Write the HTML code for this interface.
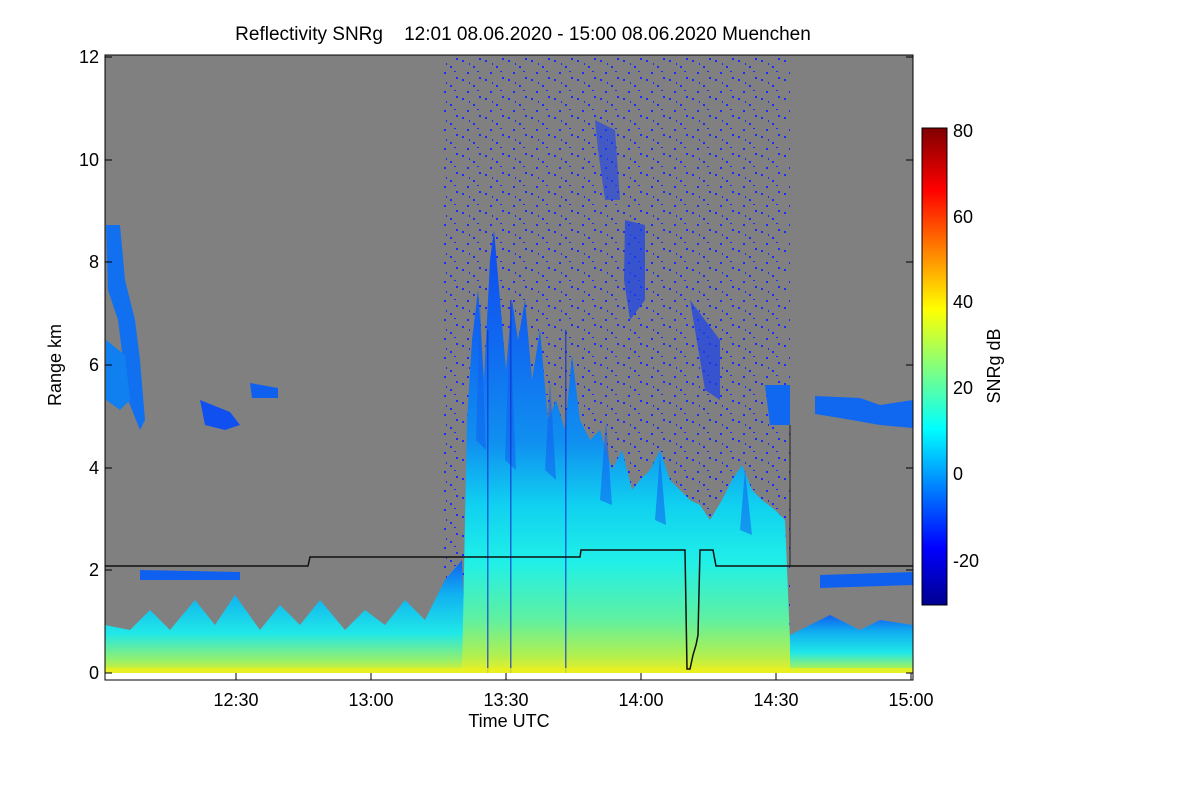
<!DOCTYPE html>
<html><head><meta charset="utf-8"><style>
body{margin:0;background:#fff;}
svg{display:block;font-family:"Liberation Sans",sans-serif;}
</style></head><body>
<svg width="1200" height="800" viewBox="0 0 1200 800">
<defs>
<linearGradient id="low" x1="0" y1="1" x2="0" y2="0">
<stop offset="0" stop-color="#e8f020"/><stop offset="0.12" stop-color="#90f070"/><stop offset="0.35" stop-color="#20e8e8"/><stop offset="0.7" stop-color="#10b0f0"/><stop offset="1" stop-color="#1060f0"/>
</linearGradient>
<linearGradient id="tall" gradientUnits="userSpaceOnUse" x1="0" y1="673" x2="0" y2="230">
<stop offset="0" stop-color="#f0f020"/><stop offset="0.04" stop-color="#b0f050"/><stop offset="0.12" stop-color="#60f0a0"/><stop offset="0.25" stop-color="#20f0e8"/><stop offset="0.38" stop-color="#10d0f0"/><stop offset="0.52" stop-color="#1090f0"/><stop offset="0.75" stop-color="#1068f0"/><stop offset="1" stop-color="#1048f0"/>
</linearGradient>
<linearGradient id="cb" x1="0" y1="1" x2="0" y2="0">
<stop offset="0" stop-color="#00008f"/><stop offset="0.12" stop-color="#0000ff"/><stop offset="0.37" stop-color="#00ffff"/><stop offset="0.62" stop-color="#ffff00"/><stop offset="0.87" stop-color="#ff0000"/><stop offset="1" stop-color="#800000"/>
</linearGradient>
<pattern id="dots" width="23" height="19" patternUnits="userSpaceOnUse">
<rect x="2" y="3" width="2" height="2" fill="#1a2cff"/><rect x="13" y="9" width="2" height="2" fill="#1a2cff"/><rect x="7" y="15" width="2" height="2" fill="#1a2cff"/><rect x="19" y="1" width="2" height="2" fill="#1a2cff"/><rect x="17" y="14" width="2" height="1" fill="#1a2cff"/><rect x="9" y="6" width="1" height="2" fill="#1a2cff"/>
</pattern>
</defs>
<text x="523" y="40" font-size="19" text-anchor="middle" xml:space="preserve">Reflectivity SNRg    12:01 08.06.2020 - 15:00 08.06.2020 Muenchen</text>
<rect x="105" y="55" width="808" height="618" fill="#808080"/>
<rect x="443" y="55" width="347" height="618" fill="url(#dots)"/>
<path d="M106,225 L120,225 L125,280 L135,320 L140,360 L145,420 L140,430 L128,400 L118,320 L108,290Z" fill="#1070f0"/>
<path d="M106,340 L125,355 L130,400 L120,410 L106,400Z" fill="#1080f0"/>
<path d="M200,400 L230,412 L240,425 L225,430 L205,425Z" fill="#1050f0"/>
<path d="M250,383 L278,388 L278,398 L252,398Z" fill="#1060f0"/>
<path d="M815,396 L860,398 L880,405 L913,400 L913,428 L880,425 L840,418 L815,414Z" fill="#1068f0"/>
<path d="M765,385 L790,385 L790,425 L770,425Z" fill="#1068f0"/>
<path d="M595,120 L615,130 L620,200 L605,200 L598,150Z" fill="#1a40f0" opacity="0.6"/>
<path d="M625,220 L645,225 L645,300 L630,320 L624,280Z" fill="#1a40f0" opacity="0.7"/>
<path d="M690,300 L720,340 L720,400 L705,390Z" fill="#1a40f0" opacity="0.7"/>
<path d="M140,570 L240,572 L240,580 L140,580Z" fill="#1060f0"/>
<path d="M820,575 L913,572 L913,585 L820,588Z" fill="#1060f0"/>
<path d="M105,673 L105,625 L130,630 L150,610 L170,630 L195,600 L215,625 L235,595 L260,630 L280,605 L300,625 L320,600 L345,630 L365,610 L385,625 L405,600 L425,620 L445,580 L462,560 L467,673Z" fill="url(#low)"/>
<path d="M462,673 L467,420 L472,340 L478,290 L484,380 L490,260 L494,230 L500,300 L506,370 L512,300 L518,340 L525,300 L532,380 L540,330 L548,420 L556,400 L565,430 L572,355 L580,420 L590,440 L600,430 L612,470 L622,450 L632,490 L640,480 L650,470 L660,450 L670,480 L680,490 L690,500 L700,505 L710,520 L722,500 L732,480 L742,465 L752,490 L762,500 L775,510 L785,520 L790,640 L790,673Z" fill="url(#tall)"/>
<g fill="#1060f0" opacity="0.55">
<path d="M476,440 L480,300 L486,450Z"/><path d="M505,460 L510,320 L516,470Z"/><path d="M545,470 L550,380 L556,480Z"/><path d="M600,500 L606,420 L612,505Z"/><path d="M655,520 L660,455 L666,525Z"/><path d="M740,530 L745,470 L752,535Z"/>
</g>
<g fill="#1030d0" opacity="0.7">
<rect x="487" y="330" width="1.5" height="343"/><rect x="510" y="300" width="1.5" height="373"/><rect x="565" y="330" width="1.5" height="343"/>
</g>
<path d="M790,673 L790,635 L810,625 L830,615 L860,630 L880,620 L913,625 L913,673Z" fill="url(#low)"/>
<rect x="105" y="668" width="808" height="5" fill="#e8f020" opacity="0.8"/>
<polyline points="105,566 308,566 310,557 580,557 581,550 685,550 687,669 690,669 693,655 696,645 698,635 700,550 713,550 716,566 913,566" fill="none" stroke="#111" stroke-width="1.5"/>
<line x1="790" y1="425" x2="790" y2="566" stroke="#222" stroke-width="1"/>
<rect x="105" y="55" width="808" height="625" fill="none" stroke="#000" stroke-width="1"/>
<g stroke="#000" stroke-width="1">
<line x1="236" y1="680" x2="236" y2="673"/><line x1="371" y1="680" x2="371" y2="673"/><line x1="506" y1="680" x2="506" y2="673"/><line x1="641" y1="680" x2="641" y2="673"/><line x1="776" y1="680" x2="776" y2="673"/><line x1="911" y1="680" x2="911" y2="673"/>
<line x1="105" y1="673" x2="112" y2="673"/><line x1="105" y1="570" x2="112" y2="570"/><line x1="105" y1="468" x2="112" y2="468"/><line x1="105" y1="365" x2="112" y2="365"/><line x1="105" y1="262" x2="112" y2="262"/><line x1="105" y1="160" x2="112" y2="160"/><line x1="105" y1="57" x2="112" y2="57"/>
<line x1="913" y1="673" x2="906" y2="673"/><line x1="913" y1="570" x2="906" y2="570"/><line x1="913" y1="468" x2="906" y2="468"/><line x1="913" y1="365" x2="906" y2="365"/><line x1="913" y1="262" x2="906" y2="262"/><line x1="913" y1="160" x2="906" y2="160"/><line x1="913" y1="57" x2="906" y2="57"/>
</g>
<g font-size="18" text-anchor="middle">
<text x="236" y="706">12:30</text><text x="371" y="706">13:00</text><text x="506" y="706">13:30</text><text x="641" y="706">14:00</text><text x="776" y="706">14:30</text><text x="911" y="706">15:00</text>
<text x="509" y="727">Time UTC</text>
</g>
<g font-size="18" text-anchor="end">
<text x="99" y="679">0</text><text x="99" y="576">2</text><text x="99" y="474">4</text><text x="99" y="371">6</text><text x="99" y="268">8</text><text x="99" y="166">10</text><text x="99" y="63">12</text>
</g>
<text transform="translate(61,365) rotate(-90)" font-size="18" text-anchor="middle">Range km</text>
<rect x="922" y="128" width="25" height="477" fill="url(#cb)" stroke="#000" stroke-width="1"/>
<g font-size="18">
<text x="953" y="137">80</text><text x="953" y="223">60</text><text x="953" y="308">40</text><text x="953" y="394">20</text><text x="953" y="480">0</text><text x="953" y="567">-20</text>
</g>
<text transform="translate(1000,366) rotate(-90)" font-size="18" text-anchor="middle">SNRg dB</text>
</svg>
</body></html>
